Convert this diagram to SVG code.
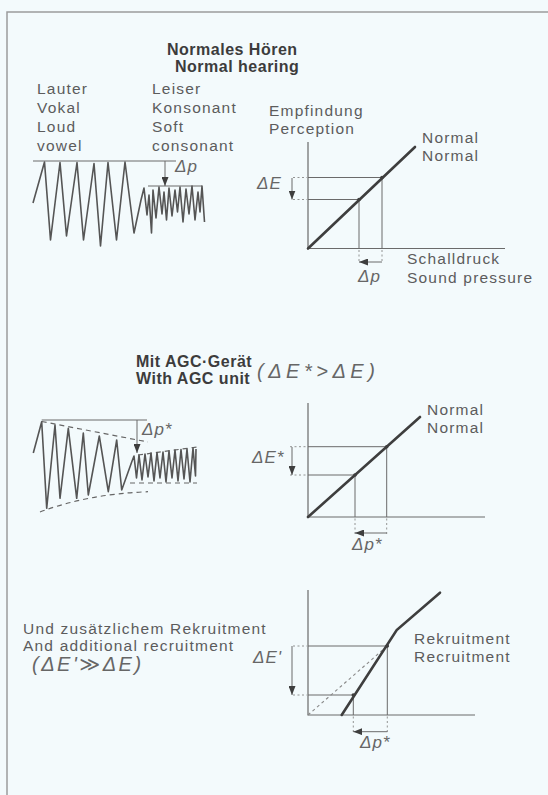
<svg xmlns="http://www.w3.org/2000/svg" width="548" height="795" viewBox="0 0 548 795">
<defs>
<style>
.bg{fill:#f3fafc}
.frame{fill:none;stroke:#9c9c9c;stroke-width:1.5}
.t{font-family:"Liberation Sans","DejaVu Sans",sans-serif;font-size:15.5px;fill:#5c5c5c;letter-spacing:1.2px}
.h{font-family:"Liberation Sans","DejaVu Sans",sans-serif;font-size:16px;font-weight:bold;fill:#3c3c3c;letter-spacing:0.5px}
.d{font-family:"Liberation Sans","DejaVu Sans",sans-serif;font-size:17px;font-style:italic;fill:#666;letter-spacing:1px}
.dl{font-family:"Liberation Sans","DejaVu Sans",sans-serif;font-size:20px;font-style:italic;fill:#666;letter-spacing:4.5px}
.ax{fill:none;stroke:#6a6a6a;stroke-width:1.2}
.g{fill:none;stroke:#6a6a6a;stroke-width:1}
.cv{fill:none;stroke:#3e3e3e;stroke-width:2.6;stroke-linecap:round}
.tk{fill:none;stroke:#888;stroke-width:0.9;stroke-dasharray:2 2.5}
.dash{fill:none;stroke:#666;stroke-width:1.2;stroke-dasharray:5 4}
.ar{fill:none;stroke:#6a6a6a;stroke-width:1}
.w{fill:none;stroke:#555;stroke-width:1.6;stroke-linejoin:round}
.dot{fill:#3e3e3e}
</style>
<marker id="ah" markerUnits="userSpaceOnUse" markerWidth="9" markerHeight="7" viewBox="0 0 9 7" refX="9" refY="3.5" orient="auto">
<path d="M0,0 L9,3.5 L0,7 z" fill="#3e3e3e"/>
</marker>
</defs>
<rect class="bg" x="0" y="0" width="548" height="795"/>
<path class="frame" d="M548,12 H7 V795"/>

<g id="section-normal">
<text class="h" x="167" y="55">Normales Hören</text>
<text class="h" x="175" y="72">Normal hearing</text>
</g>

<g id="wave-normal">
<text class="t" x="37" y="94">Lauter</text>
<text class="t" x="37" y="113">Vokal</text>
<text class="t" x="37" y="132">Loud</text>
<text class="t" x="37" y="151">vowel</text>
<text class="t" x="152" y="94">Leiser</text>
<text class="t" x="152" y="113">Konsonant</text>
<text class="t" x="152" y="132">Soft</text>
<text class="t" x="152" y="151">consonant</text>
<path class="g" d="M33,161 H176 M148,186 H202"/>
<path class="ar" d="M165,161 V186" marker-end="url(#ah)"/>
<text class="d" x="175" y="172">Δp</text>
<polyline class="w" points="33,203 44.5,162 50.5,240 60,162.5 66.5,236 77,162.5 83.5,240 94,163.5 100.5,246 108,162.5 116.5,240 125,162 134,233 141,200 144,188 147,215 149,195 151.5,233 153,190 156,218 159,187 162,214 164,192 166.5,220 169,188 172,216 175,190 177.5,212 180,187 183,222 186,189 189,214 192,186 195,220 198,192 200,212 202,186 204.5,222"/>
</g>

<g id="graph-normal">
<text class="t" x="269" y="116">Empfindung</text>
<text class="t" x="269" y="134">Perception</text>
<text class="t" x="422" y="143">Normal</text>
<text class="t" x="422" y="161">Normal</text>
<text class="t" x="407" y="264">Schalldruck</text>
<text class="t" x="407" y="283">Sound pressure</text>
<path class="ax" d="M308,142 V248.5 H505"/>
<path class="g" d="M308,177.5 H382 V248.5 M308,199.5 H359 V248.5"/>
<path class="tk" d="M293,177.5 H307 M293,199.5 H307 M359,250 V263 M382,250 V263"/>
<path class="cv" d="M308,248.5 L415,147"/>
<circle class="dot" cx="382" cy="177.5" r="1.8"/>
<circle class="dot" cx="359" cy="199.5" r="1.8"/>
<path class="ar" d="M292,178 V199.5" marker-end="url(#ah)"/>
<path class="ar" d="M382,262 H359" marker-end="url(#ah)"/>
<text class="d" x="257" y="189">ΔE</text>
<text class="d" x="358" y="282">Δp</text>
</g>

<g id="section-agc">
<text class="h" x="136" y="367">Mit AGC·Gerät</text>
<text class="h" x="136" y="384">With AGC unit</text>
<text class="dl" x="257" y="378">(ΔE*&gt;ΔE)</text>
</g>

<g id="wave-agc">
<path class="g" d="M41.7,420 H147"/>
<path class="ar" d="M137,420 V453" marker-end="url(#ah)"/>
<text class="d" x="142" y="435">Δp*</text>
<path class="dash" d="M41.7,421.5 L148,442 M40,512 Q88,494 148,491.7 M138,455 L197,447 M130,483 H197"/>
<polyline class="w" points="33.3,453 41.7,421.7 46.7,508.3 55,425 60,498.3 68.3,428.3 76.7,498.3 83.3,433 88.3,495 99.3,436 108.3,491.7 116.7,440 121.7,490 131.7,462 134,456 136.5,478 139,455 142,480 145,454 148,477 151,453 154,481 157,452.5 160,478 163,452 166,482 169,451 172,478 175,450 178,481 181,449.5 184,479 187,449 190,482 193,448 195.5,476 196,449"/>
</g>

<g id="graph-agc">
<text class="t" x="427" y="415">Normal</text>
<text class="t" x="427" y="433">Normal</text>
<path class="ax" d="M308,403 V517 H485"/>
<path class="g" d="M308,446.7 H386.7 V517 M308,475 H355 V517"/>
<path class="tk" d="M290,446.7 H307 M290,475 H307 M355,518.5 V535 M386.7,518.5 V535"/>
<path class="cv" d="M308,517 L420,417"/>
<circle class="dot" cx="386.7" cy="446.7" r="1.8"/>
<circle class="dot" cx="355" cy="475" r="1.8"/>
<path class="ar" d="M292,447 V475" marker-end="url(#ah)"/>
<path class="ar" d="M386.7,533 H355" marker-end="url(#ah)"/>
<text class="d" x="252" y="463">ΔE*</text>
<text class="d" x="352" y="550">Δp*</text>
</g>

<g id="section-recruitment">
<text class="t" x="23" y="634">Und zusätzlichem Rekruitment</text>
<text class="t" x="23" y="651">And additional recruitment</text>
<text class="dl" x="32" y="671" style="letter-spacing:2.5px">(ΔE'≫ΔE)</text>
</g>

<g id="graph-recruitment">
<text class="t" x="414" y="644">Rekruitment</text>
<text class="t" x="414" y="662">Recruitment</text>
<path class="ax" d="M308,590 V715 H475"/>
<path class="g" d="M308,646 H387.3 V715 M308,695 H353.3 V715"/>
<path class="tk" d="M293,646 H307 M293,695 H307 M353.3,716.5 V734 M387.3,716.5 V734"/>
<path class="tk" d="M308,715 L387.3,646" style="stroke-dasharray:3 3;stroke-width:1.1"/>
<path class="cv" d="M341.7,715 L396.7,630 L440,592.7"/>
<circle class="dot" cx="387.3" cy="646" r="1.8"/>
<circle class="dot" cx="353.3" cy="695" r="1.8"/>
<path class="ar" d="M292,646 V695" marker-end="url(#ah)"/>
<path class="ar" d="M387.3,731.7 H353.3" marker-end="url(#ah)"/>
<text class="d" x="253" y="663">ΔE'</text>
<text class="d" x="360" y="748">Δp*</text>
</g>
</svg>
